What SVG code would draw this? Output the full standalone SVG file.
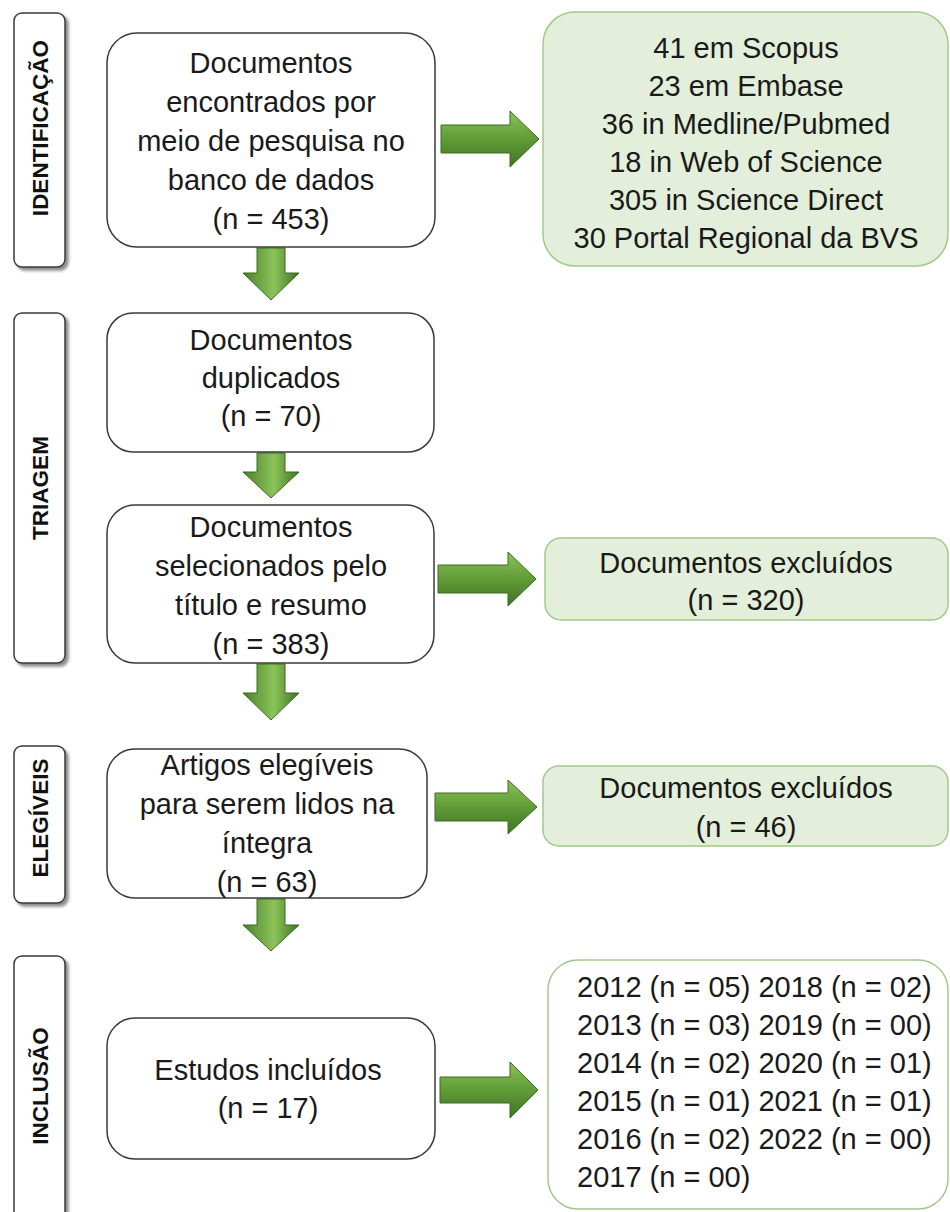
<svg xmlns="http://www.w3.org/2000/svg" width="950" height="1212" viewBox="0 0 950 1212">
<style>
.t{font-family:"Liberation Sans",Arial,sans-serif;font-size:29px;fill:#1a1a1a;text-anchor:middle}
.l{font-family:"Liberation Sans",Arial,sans-serif;font-size:29px;fill:#1a1a1a}
.s{font-family:"Liberation Sans",Arial,sans-serif;font-size:22.5px;font-weight:bold;fill:#111;text-anchor:middle}
.box{fill:#fff;stroke:#3a3a3a;stroke-width:1.5}
.side{fill:#fff;stroke:#3a3a3a;stroke-width:1.5}
.gbox{fill:#e3efda;stroke:#a3c98a;stroke-width:1.5}
.wbox{fill:#fff;stroke:#a3c98a;stroke-width:1.5}
.ra{fill:url(#gr);stroke:#3d6b22;stroke-width:1}
.da{fill:url(#gd);stroke:#3d6b22;stroke-width:1}
</style>
<defs>
<linearGradient id="gr" x1="0" y1="0" x2="0" y2="1">
<stop offset="0" stop-color="#8cc25a"/><stop offset="0.45" stop-color="#64a03a"/><stop offset="1" stop-color="#3f7324"/>
</linearGradient>
<linearGradient id="gd" x1="0" y1="0" x2="1" y2="0">
<stop offset="0" stop-color="#4a802b"/><stop offset="0.55" stop-color="#8cc45a"/><stop offset="1" stop-color="#3f7324"/>
</linearGradient>
<filter id="sh" x="-20%" y="-5%" width="150%" height="115%">
<feDropShadow dx="3" dy="3" stdDeviation="1.5" flood-color="#000" flood-opacity="0.45"/>
</filter>
</defs>

<g id="side-identificacao">
<rect class="side" x="14" y="13" width="51" height="254" rx="8" filter="url(#sh)"/>
<text class="s" transform="translate(48,128) rotate(-90)">IDENTIFICAÇÃO</text>
</g>
<g id="side-triagem">
<rect class="side" x="14" y="313" width="51" height="350" rx="8" filter="url(#sh)"/>
<text class="s" transform="translate(48,488) rotate(-90)">TRIAGEM</text>
</g>
<g id="side-elegiveis">
<rect class="side" x="14" y="746" width="51" height="157" rx="8" filter="url(#sh)"/>
<text class="s" transform="translate(48,818) rotate(-90)">ELEGÍVEIS</text>
</g>
<g id="side-inclusao">
<rect class="side" x="14" y="956" width="51" height="270" rx="8" filter="url(#sh)"/>
<text class="s" transform="translate(48,1086) rotate(-90)">INCLUSÃO</text>
</g>

<g id="connectors">
<path class="ra" d="M441,125 L510,125 L510,111 L539,139 L510,167 L510,153 L441,153 Z"/>
<path class="ra" d="M438,565 L508,565 L508,552 L536,579 L508,606 L508,593 L438,593 Z"/>
<path class="ra" d="M435,793 L508,793 L508,780 L537,807 L508,834 L508,821 L435,821 Z"/>
<path class="ra" d="M440,1077 L510,1077 L510,1062 L538,1090 L510,1118 L510,1103 L440,1103 Z"/>
<path class="da" d="M257,248 L285,248 L285,273 L299,273 L271,300 L243,273 L257,273 Z"/>
<path class="da" d="M257,453 L285,453 L285,472 L299,472 L271,498 L243,472 L257,472 Z"/>
<path class="da" d="M257,664 L285,664 L285,693 L299,693 L271,720 L243,693 L257,693 Z"/>
<path class="da" d="M257,899 L285,899 L285,925 L299,925 L271,951 L243,925 L257,925 Z"/>
</g>

<g id="n-encontrados">
<rect class="box" x="107" y="33" width="328" height="214" rx="30"/>
<text class="t" x="271" y="73">Documentos</text>
<text class="t" x="271" y="112">encontrados por</text>
<text class="t" x="271" y="151">meio de pesquisa no</text>
<text class="t" x="271" y="190">banco de dados</text>
<text class="t" x="271" y="229">(n = 453)</text>
</g>
<g id="n-bases">
<rect class="gbox" x="543" y="12" width="405" height="254" rx="32"/>
<text class="t" x="746" y="58">41 em Scopus</text>
<text class="t" x="746" y="96">23 em Embase</text>
<text class="t" x="746" y="134">36 in Medline/Pubmed</text>
<text class="t" x="746" y="172">18 in Web of Science</text>
<text class="t" x="746" y="210">305 in Science Direct</text>
<text class="t" x="746" y="248">30 Portal Regional da BVS</text>
</g>
<g id="n-duplicados">
<rect class="box" x="107" y="313" width="327" height="139" rx="26"/>
<text class="t" x="271" y="350">Documentos</text>
<text class="t" x="271" y="388">duplicados</text>
<text class="t" x="271" y="426">(n = 70)</text>
</g>
<g id="n-selecionados">
<rect class="box" x="107" y="505" width="327" height="158" rx="28"/>
<text class="t" x="271" y="537">Documentos</text>
<text class="t" x="271" y="576">selecionados pelo</text>
<text class="t" x="271" y="615">título e resumo</text>
<text class="t" x="271" y="654">(n = 383)</text>
</g>
<g id="n-excluidos1">
<rect class="gbox" x="545" y="538" width="403" height="82" rx="16"/>
<text class="t" x="746" y="573">Documentos excluídos</text>
<text class="t" x="746" y="610">(n = 320)</text>
</g>
<g id="n-elegiveis">
<rect class="box" x="107" y="749" width="320" height="149" rx="28"/>
<text class="t" x="267" y="775">Artigos elegíveis</text>
<text class="t" x="267" y="814">para serem lidos na</text>
<text class="t" x="267" y="853">íntegra</text>
<text class="t" x="267" y="892">(n = 63)</text>
</g>
<g id="n-excluidos2">
<rect class="gbox" x="543" y="766" width="405" height="80" rx="16"/>
<text class="t" x="746" y="798">Documentos excluídos</text>
<text class="t" x="746" y="837">(n = 46)</text>
</g>
<g id="n-incluidos">
<rect class="box" x="107" y="1018" width="328" height="141" rx="28"/>
<text class="t" x="268" y="1080">Estudos incluídos</text>
<text class="t" x="268" y="1118">(n = 17)</text>
</g>
<g id="n-anos">
<rect class="wbox" x="548" y="960" width="400" height="249" rx="30"/>
<text class="l" x="577" y="997">2012 (n = 05) 2018 (n = 02)</text>
<text class="l" x="577" y="1035">2013 (n = 03) 2019 (n = 00)</text>
<text class="l" x="577" y="1073">2014 (n = 02) 2020 (n = 01)</text>
<text class="l" x="577" y="1111">2015 (n = 01) 2021 (n = 01)</text>
<text class="l" x="577" y="1149">2016 (n = 02) 2022 (n = 00)</text>
<text class="l" x="577" y="1187">2017 (n = 00)</text>
</g>
</svg>
